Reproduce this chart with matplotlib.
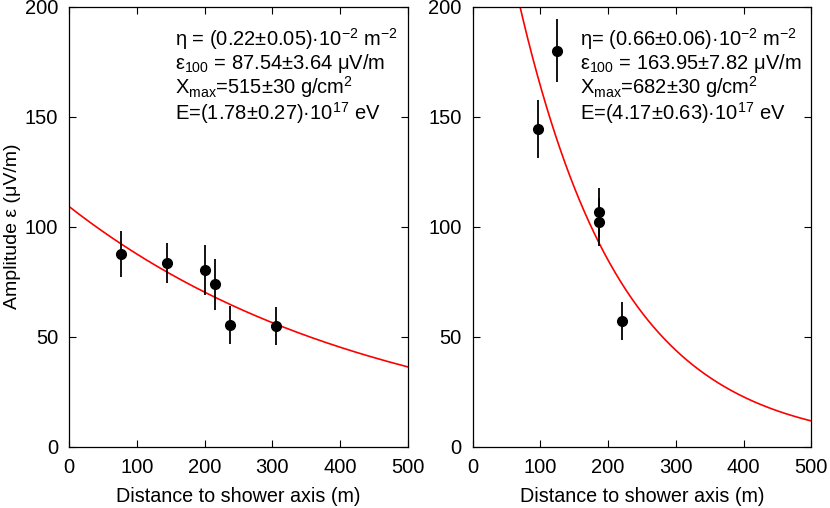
import numpy as np
import matplotlib
matplotlib.use('Agg')
import matplotlib.pyplot as plt

plt.rcParams['font.family'] = ['Liberation Sans', 'DejaVu Sans']
plt.rcParams['mathtext.fontset'] = 'custom'
plt.rcParams['mathtext.rm'] = 'Liberation Sans'
plt.rcParams['mathtext.default'] = 'regular'

# Left event: measured amplitudes vs distance
left_dist = [76, 144, 201, 216, 238, 306]
left_amp = [87.6, 83.4, 80.3, 73.8, 55.2, 54.9]
left_err = [10.5, 9.0, 11.3, 11.7, 8.7, 8.5]
left_eta = 0.22e-2
left_eps100 = 87.54

# Right event
right_dist = [97, 124, 186, 186, 221]
right_amp = [144.4, 180.0, 106.5, 102.0, 57.1]
right_err = [13.0, 14.4, 11.0, 11.0, 8.6]
right_eta = 0.66e-2
right_eps100 = 163.95

left_text = ['\u03b7 = (0.22\u00b10.05)\u00b710$^{-2}$ m$^{-2}$',
             '\u03b5$_{100}$ = 87.54\u00b13.64 \u03bcV/m',
             'X$_{max}$=515\u00b130 g/cm$^{2}$',
             'E=(1.78\u00b10.27)\u00b710$^{17}$ eV']
right_text = ['\u03b7= (0.66\u00b10.06)\u00b710$^{-2}$ m$^{-2}$',
              '\u03b5$_{100}$ = 163.95\u00b17.82 \u03bcV/m',
              'X$_{max}$=682\u00b130 g/cm$^{2}$',
              'E=(4.17\u00b10.63)\u00b710$^{17}$ eV']

fig = plt.figure(figsize=(8.3, 5.08), dpi=100)
ax1 = fig.add_axes([0.0835, 0.1207, 0.4075, 0.8661])
ax2 = fig.add_axes([0.5695, 0.1207, 0.4080, 0.8661])

d = np.linspace(0, 500, 501)
panels = [(ax1, left_dist, left_amp, left_err, left_eta, left_eps100, left_text, 0.312),
          (ax2, right_dist, right_amp, right_err, right_eta, right_eps100, right_text, 0.317)]

for ax, xs, ys, es, eta, eps100, txt, tx in panels:
    ax.plot(d, eps100 * np.exp(-eta * (d - 100)), color='red', lw=1.2, zorder=2)
    ax.errorbar(xs, ys, yerr=es, fmt='o', color='black', ms=7, elinewidth=1.3,
                capsize=0, zorder=3)
    ax.set_xlim(0, 500)
    ax.set_ylim(0, 200)
    ax.set_xticks([0, 100, 200, 300, 400, 500])
    ax.set_yticks([0, 50, 100, 150, 200])
    ax.tick_params(direction='in', top=True, right=True, length=5, width=0.8,
                   labelsize=14.5, pad=8)
    for s in ax.spines.values():
        s.set_linewidth(0.9)
    ax.set_xlabel('Distance to shower axis (m)', fontsize=14.2, labelpad=7)
    # fit parameters, one block so the lines keep even spacing
    ax.text(tx, 0.956, '\n'.join(txt), transform=ax.transAxes,
            fontsize=14.5, va='top', ha='left', linespacing=0.98)

ax1.set_ylabel('Amplitude \u03b5 (\u03bcV/m)', fontsize=14, labelpad=3)

fig.savefig('out.png', dpi=100)
